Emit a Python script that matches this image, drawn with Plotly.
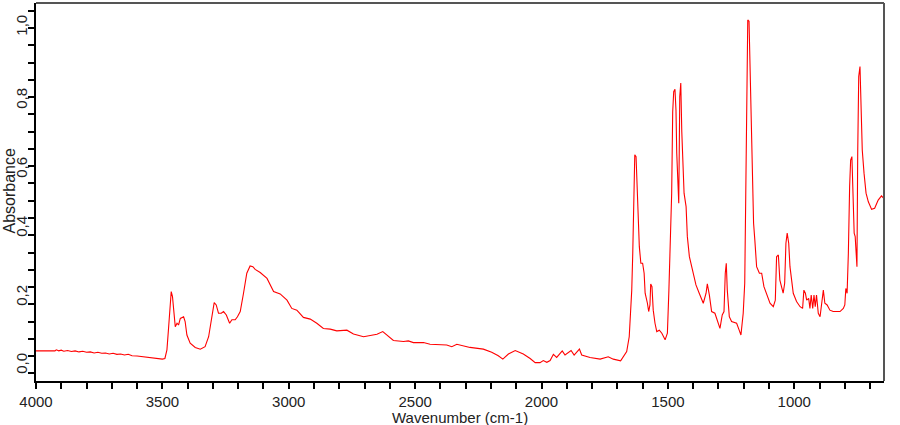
import plotly.graph_objects as go

wavenumber = [
    4000, 3960, 3925, 3920, 3910, 3900, 3890, 3875, 3860, 3845, 3830, 3815, 3800, 3785,
    3770, 3755, 3740, 3725, 3710, 3695, 3680, 3665, 3650, 3635, 3620, 3600, 3580, 3560,
    3540, 3520, 3500, 3490, 3482, 3476, 3469, 3465, 3460, 3456, 3449, 3442, 3436, 3429,
    3416, 3410, 3403, 3390, 3370, 3350, 3331, 3317, 3304, 3295, 3287, 3278, 3267, 3258,
    3247, 3234, 3225, 3212, 3203, 3192, 3179, 3166, 3153, 3142, 3133, 3113, 3086, 3060,
    3034, 3007, 2988, 2968, 2942, 2915, 2889, 2863, 2836, 2810, 2770, 2744, 2704, 2678,
    2651, 2628, 2606, 2586, 2546, 2527, 2507, 2467, 2441, 2375, 2355, 2335, 2283, 2230,
    2197, 2171, 2153, 2131, 2104, 2072, 2045, 2025, 2006, 1993, 1979, 1966, 1953, 1940,
    1918, 1907, 1883, 1871, 1850, 1841, 1808, 1768, 1736, 1716, 1687, 1663, 1653, 1643,
    1639, 1635, 1631, 1626, 1622, 1617, 1613, 1607, 1600, 1594, 1590, 1581, 1576, 1571,
    1568, 1563, 1558, 1551, 1544, 1534, 1524, 1511, 1502, 1496, 1489, 1485, 1481, 1477,
    1472, 1468, 1465, 1461, 1457, 1453, 1449, 1445, 1441, 1436, 1428, 1423, 1415, 1406,
    1399, 1389, 1376, 1360, 1349, 1344, 1336, 1327, 1314, 1305, 1294, 1285, 1278, 1273,
    1269, 1265, 1257, 1248, 1228, 1218, 1211, 1202, 1196, 1192, 1188, 1184, 1179, 1176,
    1170, 1165, 1161, 1156, 1149, 1138, 1129, 1120, 1109, 1096, 1083, 1075, 1070, 1063,
    1057, 1049, 1044, 1038, 1033, 1028, 1022, 1017, 1010, 1004, 991, 977, 967, 962,
    956, 951, 943, 938, 933, 927, 922, 917, 912, 905, 898, 892, 885, 879,
    870, 859, 846, 819, 806, 800, 796, 791, 786, 781, 777, 772, 766, 763,
    759, 755, 752, 749, 745, 740, 736, 731, 724, 716, 707, 694, 682, 668,
    655, 646,
]

absorbance = [
    0.065, 0.065, 0.065, 0.068, 0.065, 0.067, 0.064, 0.066, 0.063, 0.065, 0.062, 0.064, 0.061, 0.062,
    0.059, 0.061, 0.058, 0.059, 0.056, 0.058, 0.055, 0.056, 0.053, 0.055, 0.051, 0.050, 0.048, 0.046,
    0.044, 0.042, 0.041, 0.043, 0.068, 0.126, 0.222, 0.237, 0.222, 0.183, 0.135, 0.145, 0.140, 0.159,
    0.164, 0.150, 0.111, 0.087, 0.075, 0.070, 0.077, 0.106, 0.164, 0.205, 0.198, 0.174, 0.174, 0.179,
    0.169, 0.145, 0.155, 0.155, 0.164, 0.179, 0.232, 0.290, 0.311, 0.309, 0.301, 0.292, 0.275, 0.237,
    0.230, 0.212, 0.188, 0.183, 0.162, 0.157, 0.145, 0.130, 0.128, 0.123, 0.125, 0.114, 0.106, 0.110,
    0.113, 0.121, 0.106, 0.095, 0.092, 0.094, 0.089, 0.089, 0.084, 0.082, 0.077, 0.084, 0.075, 0.070,
    0.061, 0.051, 0.041, 0.056, 0.066, 0.056, 0.043, 0.031, 0.031, 0.037, 0.032, 0.037, 0.055, 0.046,
    0.065, 0.053, 0.066, 0.053, 0.070, 0.053, 0.046, 0.041, 0.048, 0.041, 0.036, 0.063, 0.106, 0.241,
    0.348, 0.570, 0.633, 0.628, 0.541, 0.454, 0.367, 0.319, 0.319, 0.290, 0.232, 0.203, 0.179, 0.198,
    0.259, 0.251, 0.183, 0.145, 0.121, 0.125, 0.116, 0.097, 0.116, 0.241, 0.396, 0.522, 0.758, 0.816,
    0.823, 0.763, 0.638, 0.546, 0.493, 0.802, 0.841, 0.700, 0.599, 0.522, 0.483, 0.396, 0.338, 0.309,
    0.280, 0.256, 0.232, 0.203, 0.232, 0.259, 0.227, 0.179, 0.174, 0.155, 0.130, 0.169, 0.179, 0.290,
    0.319, 0.241, 0.164, 0.150, 0.145, 0.125, 0.111, 0.174, 0.261, 0.512, 0.705, 1.024, 1.020, 0.918,
    0.768, 0.618, 0.435, 0.386, 0.309, 0.290, 0.290, 0.251, 0.227, 0.203, 0.193, 0.212, 0.338, 0.343,
    0.270, 0.241, 0.232, 0.261, 0.377, 0.406, 0.377, 0.309, 0.270, 0.232, 0.208, 0.193, 0.188, 0.241,
    0.232, 0.212, 0.217, 0.188, 0.227, 0.188, 0.227, 0.193, 0.227, 0.174, 0.164, 0.203, 0.241, 0.203,
    0.198, 0.183, 0.179, 0.179, 0.188, 0.198, 0.246, 0.232, 0.348, 0.541, 0.618, 0.628, 0.502, 0.406,
    0.396, 0.338, 0.309, 0.638, 0.860, 0.889, 0.734, 0.647, 0.580, 0.522, 0.497, 0.475, 0.478, 0.502,
    0.514, 0.507,
]

y_tick_values = [0.0, 0.2, 0.4, 0.6, 0.8, 1.0]
y_tick_text = ["0,0", "0,2", "0,4", "0,6", "0,8", "1,0"]

x_range = [4000, 645]
y_range = [-0.0223, 1.073]
x_title = "Wavenumber (cm-1)"
y_title = "Absorbance"

FONT = "Liberation Sans, Arial, sans-serif"
PLOT_L, PLOT_W, PLOT_B, PLOT_H = 36, 848, 381, 378

# vertical pixel nudges of the rotated y tick labels, as in the original rendering
label_nudge = [10, 9, 9, -1, -1, 3]

fig = go.Figure()
fig.add_trace(go.Scatter(
    x=wavenumber, y=absorbance, mode="lines",
    line=dict(color="#ff0000", width=1.1),
    showlegend=False, hoverinfo="skip",
))

annotations = [
    dict(text=x_title, xref="paper", yref="paper", x=(460 - PLOT_L) / PLOT_W, y=(PLOT_B - 417) / PLOT_H,
         xanchor="center", yanchor="middle", showarrow=False,
         font=dict(size=15, color="#222222")),
    dict(text=y_title, xref="paper", yref="paper", x=(8.5 - PLOT_L) / PLOT_W, y=(PLOT_B - 191) / PLOT_H,
         xanchor="center", yanchor="middle", showarrow=False, textangle=-90,
         font=dict(size=16, color="#222222")),
]
for val, txt, nudge in zip(y_tick_values, y_tick_text, label_nudge):
    annotations.append(dict(
        text=txt, xref="paper", yref="y", x=(21.5 - PLOT_L) / PLOT_W, y=val,
        yshift=nudge, xanchor="center", yanchor="middle", showarrow=False,
        textangle=-90, font=dict(size=15, color="#222222"),
    ))

fig.update_layout(
    width=900, height=425,
    margin=dict(l=PLOT_L, r=900 - PLOT_L - PLOT_W, t=425 - PLOT_B - (425 - PLOT_B - 3) + 3 - 3, b=425 - PLOT_B),
    paper_bgcolor="white", plot_bgcolor="white",
    separators=",.",
    font=dict(family=FONT, size=15, color="#000000"),
    xaxis=dict(
        range=x_range, showgrid=False, zeroline=False,
        showline=True, linecolor="#000000", linewidth=1.5,
        ticks="outside", ticklen=6, tickwidth=1.5, tickcolor="#000000",
        tick0=0, dtick=500, tickformat="d",
        minor=dict(dtick=100, tick0=0, ticks="outside", ticklen=6, tickwidth=1.5, tickcolor="#000000"),
        tickfont=dict(size=15, color="#222222"),
    ),
    yaxis=dict(
        range=y_range, showgrid=False, zeroline=False,
        showline=True, linecolor="#000000", linewidth=1.5,
        ticks="outside", ticklen=6, tickwidth=1.5, tickcolor="#000000",
        tickmode="array", tickvals=y_tick_values, showticklabels=False,
        minor=dict(dtick=0.05, tick0=0, ticks="outside", ticklen=6, tickwidth=1.5, tickcolor="#000000"),
    ),
    shapes=[
        dict(type="line", xref="paper", yref="paper", x0=0, x1=1, y0=1, y1=1,
             line=dict(color="#555555", width=2)),
        dict(type="line", xref="paper", yref="paper", x0=1, x1=1, y0=0, y1=1,
             line=dict(color="#555555", width=2)),
    ],
    annotations=annotations,
)

fig.write_html("out.html")
